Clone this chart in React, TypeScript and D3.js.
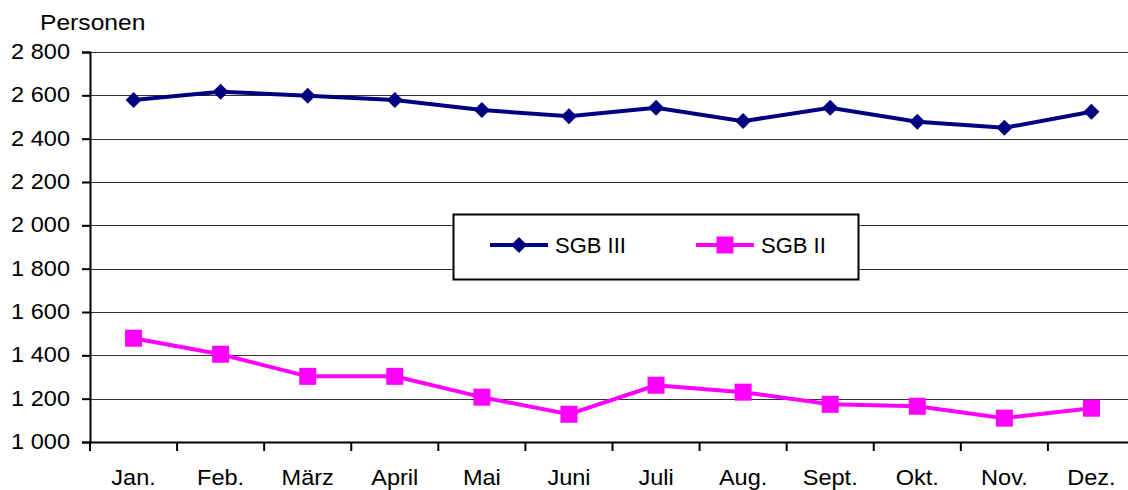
import { useRef, useEffect } from "react";
import * as d3 from "d3";

const months = ["Jan.", "Feb.", "März", "April", "Mai", "Juni", "Juli", "Aug.", "Sept.", "Okt.", "Nov.", "Dez."];
const sgb3 = [2578, 2617, 2598, 2578, 2532, 2504, 2543, 2481, 2543, 2478, 2450, 2524];
const sgb2 = [1479, 1405, 1303, 1303, 1207, 1128, 1262, 1230, 1174, 1165, 1110, 1156];
const yTicks = [1000, 1200, 1400, 1600, 1800, 2000, 2200, 2400, 2600, 2800];

const NAVY = "#000080";
const MAGENTA = "#ff00ff";
const DIAMOND = "M0,-8L8,0L0,8L-8,0Z";

export default function App() {
  const svgRef = useRef<SVGSVGElement>(null);

  useEffect(() => {
    if (!svgRef.current) return;
    const width = 1128;
    const height = 490;
    const marginLeft = 90;
    const marginRight = -7;
    const marginTop = 52;
    const marginBottom = 48;
    const font = "'Liberation Sans', Arial, sans-serif";
    const fs = "22px";
    const sx = 1.07;

    const svg = d3.select(svgRef.current);
    svg.selectAll("*").remove();
    svg.attr("width", width).attr("height", height);

    const x = d3.scaleBand<string>()
      .domain(months)
      .range([marginLeft, width - marginRight]);

    const y = d3.scaleLinear()
      .domain([1000, 2800])
      .range([height - marginBottom, marginTop]);

    const label = (tx: number, ty: number, text: string, anchor: string, scale = sx) =>
      svg.append("text")
        .attr("transform", `translate(${tx},${ty}) scale(${scale},1)`)
        .attr("text-anchor", anchor)
        .attr("font-size", fs)
        .attr("font-family", font)
        .attr("fill", "#000")
        .text(text);

    // Gridlines
    svg.selectAll(".grid")
      .data(yTicks.slice(1))
      .join("line")
      .attr("x1", marginLeft)
      .attr("x2", width - marginRight)
      .attr("y1", (d) => Math.round(y(d)) + 0.5)
      .attr("y2", (d) => Math.round(y(d)) + 0.5)
      .attr("stroke", "#333")
      .attr("stroke-width", 1.2);

    // Y axis
    const yAxis = svg.append("g")
      .attr("transform", `translate(${marginLeft},0)`)
      .call(d3.axisLeft(y).tickValues(yTicks).tickSize(8).tickFormat(() => ""));
    yAxis.selectAll("path, line").attr("stroke", "#000").attr("stroke-width", 2);
    yTicks.forEach((t) => {
      label(marginLeft - 20, y(t) + 7, d3.format(",")(t).replace(",", " "), "end");
    });

    // X axis
    const xAxis = svg.append("g")
      .attr("transform", `translate(0,${height - marginBottom})`)
      .call(d3.axisBottom(x).tickSize(0).tickFormat(() => ""));
    xAxis.select(".domain").attr("stroke", "#000").attr("stroke-width", 2);
    svg.selectAll(".xtick")
      .data(months)
      .join("line")
      .attr("x1", (d) => x(d)!)
      .attr("x2", (d) => x(d)!)
      .attr("y1", height - marginBottom)
      .attr("y2", height - marginBottom + 9)
      .attr("stroke", "#000")
      .attr("stroke-width", 2);

    const cx = (m: string) => x(m)! + x.bandwidth() / 2;
    months.forEach((m) => label(cx(m), height - marginBottom + 43, m, "middle"));

    // Axis title
    label(40, 30, "Personen", "start", 1.12);

    const line = d3.line<number>()
      .x((_, i) => cx(months[i]))
      .y((d) => y(d));

    // SGB III
    svg.append("path")
      .datum(sgb3)
      .attr("d", line)
      .attr("fill", "none")
      .attr("stroke", NAVY)
      .attr("stroke-width", 4);
    svg.selectAll(".dia")
      .data(sgb3)
      .join("path")
      .attr("d", DIAMOND)
      .attr("transform", (d, i) => `translate(${cx(months[i])},${y(d)})`)
      .attr("fill", NAVY);

    // SGB II
    svg.append("path")
      .datum(sgb2)
      .attr("d", line)
      .attr("fill", "none")
      .attr("stroke", MAGENTA)
      .attr("stroke-width", 4);
    svg.selectAll(".sq")
      .data(sgb2)
      .join("rect")
      .attr("x", (_, i) => cx(months[i]) - 8.5)
      .attr("y", (d) => y(d) - 8.5)
      .attr("width", 17)
      .attr("height", 17)
      .attr("fill", MAGENTA);

    // Legend
    const lg = svg.append("g");
    lg.append("rect")
      .attr("x", 453.5)
      .attr("y", 214.5)
      .attr("width", 405)
      .attr("height", 65)
      .attr("fill", "#fff")
      .attr("stroke", "#000")
      .attr("stroke-width", 2);
    const items = [
      { label: "SGB III", color: NAVY, x0: 490, kind: "dia" },
      { label: "SGB II", color: MAGENTA, x0: 696, kind: "sq" },
    ];
    const ly = 245;
    items.forEach((it) => {
      lg.append("line")
        .attr("x1", it.x0).attr("x2", it.x0 + 58)
        .attr("y1", ly).attr("y2", ly)
        .attr("stroke", it.color).attr("stroke-width", 4);
      if (it.kind === "dia") {
        lg.append("path")
          .attr("d", DIAMOND)
          .attr("transform", `translate(${it.x0 + 29},${ly})`)
          .attr("fill", it.color);
      } else {
        lg.append("rect")
          .attr("x", it.x0 + 20.5).attr("y", ly - 8.5)
          .attr("width", 17).attr("height", 17)
          .attr("fill", it.color);
      }
      lg.append("text")
        .attr("x", it.x0 + 65)
        .attr("y", ly + 8)
        .attr("font-size", fs)
        .attr("font-family", font)
        .text(it.label);
    });
  }, []);

  return (
    <div style={{ position: "absolute", left: 0, top: 0 }}>
      <svg ref={svgRef} style={{ display: "block" }} />
    </div>
  );
}
